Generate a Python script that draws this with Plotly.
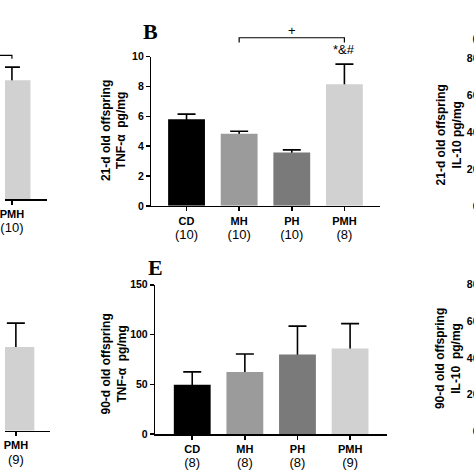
import plotly.graph_objects as go

W, H = 474, 474
FONT = "Liberation Sans, Arial, sans-serif"
SERIF = "Liberation Serif, Times New Roman, serif"

groups = ["CD", "MH", "PH", "PMH"]
bar_colors = ["#000000", "#9b9b9b", "#7a7a7a", "#d1d1d1"]

# Panel A (cut off at the left edge): only the PMH bar is visible
a_groups = ["PMH"]
a_mean = [7.97]
a_sem = [0.87]
a_n = ["10"]

# Panel B: 21-d old offspring, TNF-alpha (pg/mg)
b_mean = [5.80, 4.84, 3.57, 8.15]
b_sem = [0.35, 0.16, 0.18, 1.35]
b_n = ["10", "10", "10", "8"]
b_ticks = [0, 2, 4, 6, 8, 10]

# Panel C: 21-d old offspring, IL-10 (only tick labels visible)
c_ticks = [0, 20, 40, 60, 80]

# Panel D (cut off at the left edge): only the PMH bar is visible
d_groups = ["PMH"]
d_mean = [84.0]
d_sem = [24.0]
d_n = ["9"]

# Panel E: 90-d old offspring, TNF-alpha (pg/mg)
e_mean = [49.5, 62.5, 80.0, 86.0]
e_sem = [13.0, 18.0, 28.5, 25.0]
e_n = ["8", "8", "8", "9"]
e_ticks = [0, 50, 100, 150]

# Panel F: 90-d old offspring, IL-10 (only tick labels visible)
f_ticks = [0, 20, 40, 60, 80]

# ---------------- layout geometry (pixels) ----------------
panels = {
    "A": dict(ax="", xd=(0, 42), yd=(45, 198), xr=(2.869, 3.654), ymax=10),
    "B": dict(ax="2", xd=(148, 378.5), yd=(52, 205), xr=(-0.667, 3.667), ymax=10),
    "C": dict(ax="3", xd=(472.5, 474), yd=(54, 206), xr=(-0.7, 3.7), ymax=80),
    "D": dict(ax="4", xd=(0, 45), yd=(282.4, 435.7), xr=(2.794, 3.638), ymax=150),
    "E": dict(ax="5", xd=(152, 386), yd=(286, 439.3), xr=(-0.7, 3.7), ymax=150),
    "F": dict(ax="6", xd=(472.5, 474), yd=(286, 436), xr=(-0.7, 3.7), ymax=80),
}


def to_paper(p, xi, yv):
    x0, x1 = p["xd"]
    r0, r1 = p["xr"]
    xpx = x0 + (xi - r0) / (r1 - r0) * (x1 - x0)
    yt, yb = p["yd"]
    ypx = yb - yv / p["ymax"] * (yb - yt)
    return xpx / W, 1 - ypx / H


fig = go.Figure()


def add_bars(p, cats, means, sems, errw):
    ax = p["ax"]
    cols = [bar_colors[groups.index(c)] for c in cats]
    # error bars carried by a transparent trace drawn underneath
    fig.add_trace(go.Bar(
        x=cats, y=means, width=0.7, xaxis="x" + ax, yaxis="y" + ax,
        marker=dict(color="rgba(0,0,0,0)", line=dict(width=0)),
        error_y=dict(type="data", array=sems, symmetric=True,
                     color="black", thickness=1.6, width=errw),
        hoverinfo="skip", showlegend=False))
    fig.add_trace(go.Bar(
        x=cats, y=means, width=0.7, xaxis="x" + ax, yaxis="y" + ax,
        marker=dict(color=cols, line=dict(width=0)),
        hoverinfo="skip", showlegend=False))


add_bars(panels["A"], a_groups, a_mean, a_sem, 8)
add_bars(panels["B"], groups, b_mean, b_sem, 9)
add_bars(panels["D"], d_groups, d_mean, d_sem, 9)
add_bars(panels["E"], groups, e_mean, e_sem, 9)
# empty traces so the IL-10 subplots exist
for k in ("C", "F"):
    fig.add_trace(go.Bar(x=[], y=[], xaxis="x" + panels[k]["ax"],
                         yaxis="y" + panels[k]["ax"], showlegend=False))


def tick_text(cats, ns):
    return ["<b>%s</b><br><span style='font-size:13px'>(%s)</span>" % (c, n)
            for c, n in zip(cats, ns)]


layout = dict(
    width=W, height=H, margin=dict(l=0, r=0, t=0, b=0),
    paper_bgcolor="white", plot_bgcolor="white",
    barmode="overlay", showlegend=False, hovermode=False,
    font=dict(family=FONT, color="black"),
)


def axes(p, cats=None, ns=None, ticks=None, xvisible=True, yvisible=True,
         ylabels_only=False):
    ax = p["ax"]
    xa = dict(
        domain=[p["xd"][0] / W, p["xd"][1] / W],
        anchor="y" + ax, type="category",
        categoryorder="array", categoryarray=groups,
        range=list(p["xr"]), showgrid=False, zeroline=False,
        showline=True, linecolor="black", linewidth=1.6,
        ticks="outside", ticklen=4, tickwidth=1.6, tickcolor="black",
        tickfont=dict(family=FONT, size=11, color="black"),
        fixedrange=True, visible=xvisible,
    )
    if cats is not None:
        xa["tickvals"] = cats
        xa["ticktext"] = tick_text(cats, ns)
    ya = dict(
        domain=[1 - p["yd"][1] / H, 1 - p["yd"][0] / H],
        anchor="x" + ax, range=[0, p["ymax"]],
        showgrid=False, zeroline=False,
        showline=True, linecolor="black", linewidth=1.6,
        ticks="outside", ticklen=4, tickwidth=1.6, tickcolor="black",
        tickfont=dict(family=FONT, size=10.5, color="black", weight="bold"),
        fixedrange=True, visible=yvisible,
    )
    if ticks is not None:
        ya["tickvals"] = ticks
        ya["ticktext"] = [str(t) for t in ticks]
    if ylabels_only:
        ya["showline"] = False
        ya["ticks"] = ""
        ya["ticklabelstandoff"] = -7
    layout["xaxis" + ax] = xa
    layout["yaxis" + ax] = ya


axes(panels["A"], a_groups, a_n, None, yvisible=False)
axes(panels["B"], groups, b_n, b_ticks)
axes(panels["C"], None, None, c_ticks, xvisible=False, ylabels_only=True)
axes(panels["D"], d_groups, d_n, None, yvisible=False)
axes(panels["E"], groups, e_n, e_ticks)
axes(panels["F"], None, None, f_ticks, xvisible=False, ylabels_only=True)

fig.update_layout(**layout)

# ---------------- annotations ----------------
ann = []


def ytitle(text, xpx, ypx):
    ann.append(dict(text=text, x=xpx / W, y=1 - ypx / H, xref="paper", yref="paper",
                    textangle=-90, showarrow=False, xanchor="center", yanchor="middle",
                    font=dict(family=FONT, size=12, color="black", weight="bold")))


ytitle("21-d old offspring<br>TNF-\u03b1\u00a0\u00a0pg/mg", 110, 127.5)
ytitle("90-d old offspring<br>TNF-\u03b1\u00a0\u00a0pg/mg", 110, 367)
ytitle("21-d old offspring<br>IL-10 pg/mg", 448.5, 132)
ytitle("90-d old offspring<br>IL-10\u00a0\u00a0pg/mg", 448.5, 361.5)


def letter(t, xpx, ypx):
    ann.append(dict(text="<b>%s</b>" % t, x=xpx / W, y=1 - ypx / H,
                    xref="paper", yref="paper", showarrow=False,
                    xanchor="center", yanchor="middle",
                    font=dict(family=SERIF, size=22, color="black")))


letter("B", 147.5, 26)
letter("E", 152, 268)
letter("C", 480, 33)

shapes = []


def bracket(p, i0, i1, yv, ydrop, left_open=False):
    xa, ya = to_paper(p, i0, yv)
    xb, yb = to_paper(p, i1, yv)
    _, yd = to_paper(p, i1, ydrop)
    if left_open:
        path = "M %f,%f L %f,%f L %f,%f" % (xa, ya, xb, yb, xb, yd)
    else:
        _, yd0 = to_paper(p, i0, ydrop)
        path = "M %f,%f L %f,%f L %f,%f L %f,%f" % (xa, yd0, xa, ya, xb, yb, xb, yd)
    shapes.append(dict(type="path", path=path, xref="paper", yref="paper",
                       line=dict(color="black", width=1.2)))


pB = panels["B"]
bracket(pB, groups.index("MH"), groups.index("PMH"), 11.27, 10.95)
xp, yp = to_paper(pB, (groups.index("MH") + groups.index("PMH")) / 2, 11.76)
ann.append(dict(text="+", x=xp, y=yp, xref="paper", yref="paper", showarrow=False,
                xanchor="center", yanchor="middle",
                font=dict(family=FONT, size=13, color="black")))
xp, yp = to_paper(pB, groups.index("PMH"), 10.46)
ann.append(dict(text="*&amp;#", x=xp, y=yp, xref="paper", yref="paper", showarrow=False,
                xanchor="center", yanchor="middle",
                font=dict(family=FONT, size=13, color="black")))

pA = panels["A"]
bracket(pA, 2.5, groups.index("PMH"), 9.63, 9.41, left_open=True)

fig.update_layout(annotations=ann, shapes=shapes)

fig.write_html(
    "out.html",
    config={"displayModeBar": False, "staticPlot": True},
    post_script="document.body.style.margin='0';document.body.style.overflow='hidden';",
)
